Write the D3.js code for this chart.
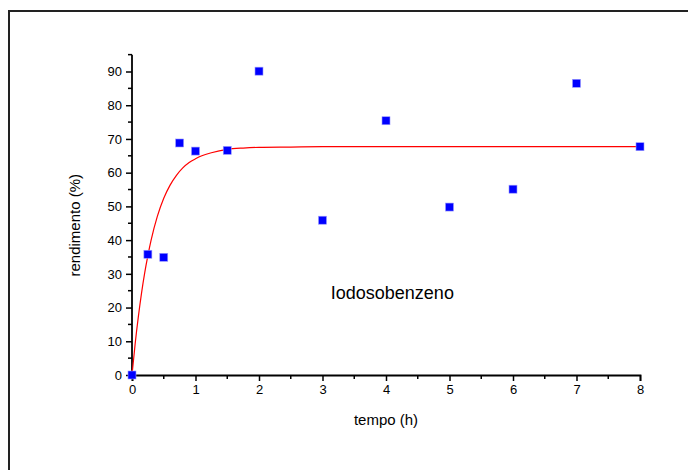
<!DOCTYPE html>
<html>
<head>
<meta charset="utf-8">
<script src="https://cdn.jsdelivr.net/npm/d3@7"></script>
<style>
  html, body { margin: 0; padding: 0; background: #fff; }
  svg { display: block; }
  text { font-family: "Liberation Sans", Arial, sans-serif; fill: #000; }
</style>
</head>
<body>
<script>
// Reaction yield over time (measured points and fitted curve)
const tempo = [0, 0.25, 0.5, 0.75, 1, 1.5, 2, 3, 4, 5, 6, 7, 8];
const rendimento = [0, 35.8, 34.9, 68.8, 66.4, 66.6, 90.1, 45.9, 75.4, 49.8, 55.1, 86.5, 67.7];

// Fitted curve, sampled along the time axis
const fitTempo = [0, 0.05, 0.1, 0.15, 0.2, 0.25, 0.3, 0.4, 0.5, 0.6, 0.7, 0.8, 0.9, 1.0, 1.1, 1.25, 1.5, 1.75, 2, 2.5, 3, 4, 5, 6, 7, 8];
const fitRendimento = [0, 9.3, 17.3, 24.3, 30.3, 35.4, 39.9, 47.1, 52.4, 56.3, 59.2, 61.4, 63.0, 64.1, 65.0, 65.9, 66.9, 67.3, 67.5, 67.6, 67.7, 67.7, 67.7, 67.7, 67.7, 67.7];

const xTicks = [0, 1, 2, 3, 4, 5, 6, 7, 8];
const yTicks = [0, 10, 20, 30, 40, 50, 60, 70, 80, 90];
const seriesLabel = "Iodosobenzeno";

const W = 688, H = 470;
const svg = d3.select("body").append("svg").attr("width", W).attr("height", H);

// outer frame
svg.append("rect")
  .attr("x", 9).attr("y", 11)
  .attr("width", 700).attr("height", 480)
  .attr("fill", "none").attr("stroke", "#222").attr("stroke-width", 2);

const x = d3.scaleLinear().domain([0, 8]).range([132, 640]);
const y = d3.scaleLinear().domain([0, 90]).range([375, 71.5]);

// x axis
const gx = svg.append("g").attr("transform", `translate(0,${y(0)})`);
gx.call(d3.axisBottom(x).tickValues(xTicks).tickFormat(d3.format("d")).tickSize(6).tickPadding(4));
gx.append("g").selectAll("line")
  .data(d3.range(0.5, 8, 1))
  .join("line")
  .attr("x1", d => x(d)).attr("x2", d => x(d))
  .attr("y1", 0).attr("y2", 4)
  .attr("stroke", "#000").attr("stroke-width", 1.5);

// y axis
const gy = svg.append("g").attr("transform", `translate(${x(0)},0)`);
gy.call(d3.axisLeft(y).tickValues(yTicks).tickFormat(d3.format("d")).tickSize(6).tickPadding(4));
gy.select(".domain").attr("d", `M0,${y(95)}V${y(0)}`);
gy.append("g").selectAll("line")
  .data(d3.range(5, 96, 10))
  .join("line")
  .attr("x1", 0).attr("x2", -4)
  .attr("y1", d => y(d)).attr("y2", d => y(d))
  .attr("stroke", "#000").attr("stroke-width", 1.5);

[gx, gy].forEach(g => {
  g.select(".domain").attr("stroke", "#000").attr("stroke-width", 1.8);
  g.selectAll(".tick line").attr("stroke", "#000").attr("stroke-width", 1.5);
  g.selectAll(".tick text")
    .style("font-family", '"Liberation Sans", Arial, sans-serif')
    .style("font-size", "13px").attr("fill", "#000");
});

// axis titles
svg.append("text")
  .attr("x", (x(0) + x(8)) / 2).attr("y", 425)
  .attr("text-anchor", "middle")
  .style("font-size", "15px")
  .text("tempo (h)");

svg.append("text")
  .attr("transform", `translate(80,${y(45) + 2}) rotate(-90)`)
  .attr("text-anchor", "middle")
  .style("font-size", "15px")
  .text("rendimento (%)");

// fitted curve
const line = d3.line()
  .x((d, i) => x(fitTempo[i]))
  .y(d => y(d))
  .curve(d3.curveMonotoneX);
svg.append("path")
  .datum(fitRendimento)
  .attr("d", line)
  .attr("fill", "none")
  .attr("stroke", "#ff0000")
  .attr("stroke-width", 1.2);

// measured points
const s = 8;
svg.append("g").selectAll("rect")
  .data(tempo.map((t, i) => [t, rendimento[i]]))
  .join("rect")
  .attr("x", d => x(d[0]) - s / 2)
  .attr("y", d => y(d[1]) - s / 2)
  .attr("width", s).attr("height", s)
  .attr("fill", "#0000ff")
  .attr("stroke", "#9a9aff").attr("stroke-width", 0.6);

// series label
svg.append("text")
  .attr("x", x(4.1)).attr("y", 299)
  .attr("text-anchor", "middle")
  .style("font-size", "18px")
  .text(seriesLabel);
</script>
</body>
</html>
